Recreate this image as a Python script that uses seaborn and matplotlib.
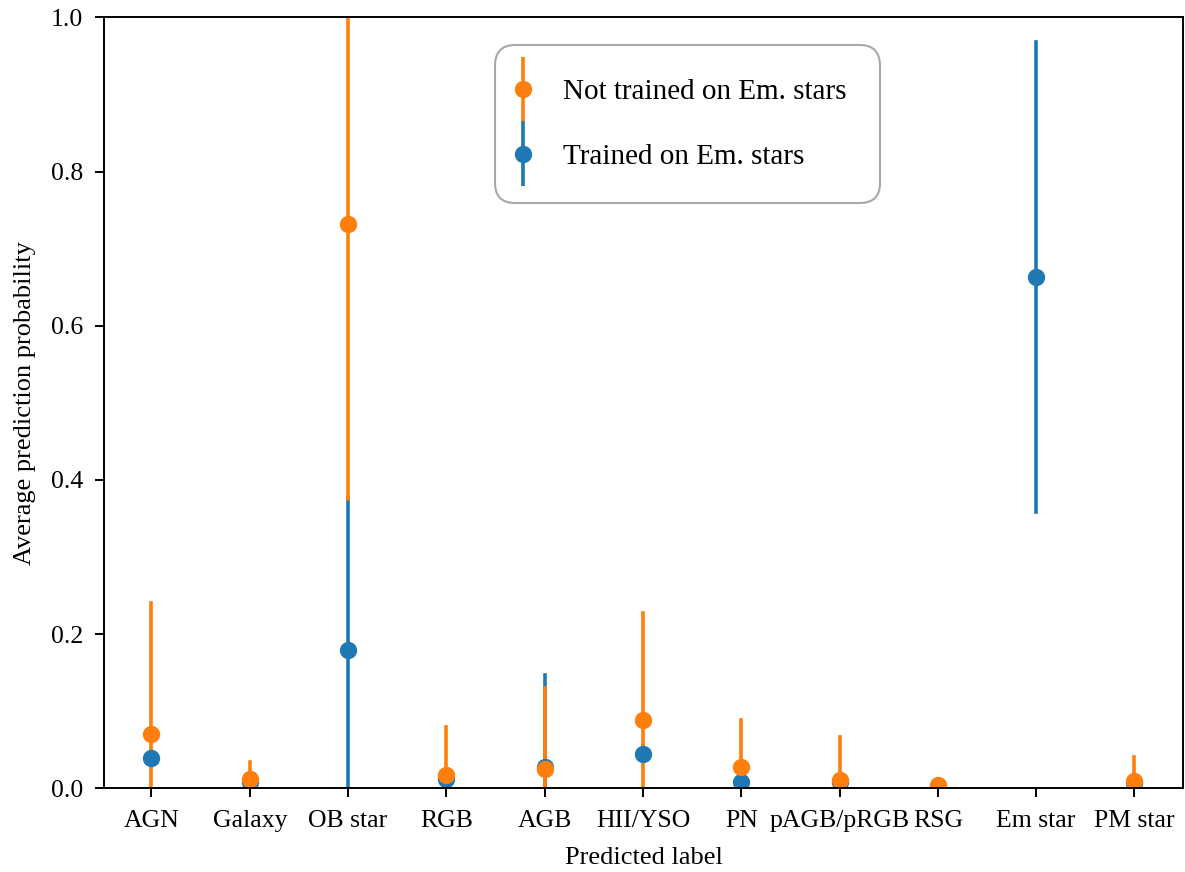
import numpy as np
import pandas as pd
import seaborn as sns
from matplotlib import pyplot as plt
from matplotlib.lines import Line2D
from matplotlib.collections import LineCollection
from matplotlib.container import ErrorbarContainer
from matplotlib.legend_handler import HandlerErrorbar

plt.rcParams['font.family'] = ['Liberation Serif', 'DejaVu Serif']
plt.rcParams['axes.linewidth'] = 1.4

labels = ['AGN', 'Galaxy', 'OB star', 'RGB', 'AGB', 'HII/YSO', 'PN',
          'pAGB/pRGB', 'RSG', 'Em star', 'PM star']

# not trained on emission stars (no Em star class)
mean_not = [0.071, 0.012, 0.732, 0.017, 0.025, 0.088, 0.028, 0.011, 0.004, np.nan, 0.010]
err_not = [0.170, 0.022, 0.357, 0.062, 0.105, 0.140, 0.061, 0.056, 0.004, np.nan, 0.031]

# trained on emission stars
mean_tr = [0.039, 0.008, 0.180, 0.012, 0.027, 0.045, 0.008, 0.008, 0.002, 0.663, 0.007]
err_tr = [0.010, 0.006, 0.197, 0.008, 0.120, 0.010, 0.008, 0.006, 0.002, 0.305, 0.006]

name_not = 'Not trained on Em. stars'
name_tr = 'Trained on Em. stars'
col_not = '#ff7f0e'
col_tr = '#1f77b4'

# two rows per class (mean -/+ err) so the 100% interval gives the bar
rows = []
for name, means, errs in [(name_tr, mean_tr, err_tr), (name_not, mean_not, err_not)]:
    for lab, m, e in zip(labels, means, errs):
        if np.isnan(m):
            continue
        rows.append({'label': lab, 'prob': m - e, 'model': name})
        rows.append({'label': lab, 'prob': m + e, 'model': name})
data = pd.DataFrame(rows)

fig, ax = plt.subplots(figsize=(11.85, 8.72), dpi=100)
fig.subplots_adjust(left=0.088, right=0.998, bottom=0.096, top=0.980)

sns.pointplot(data=data, x='label', y='prob', hue='model', order=labels,
              hue_order=[name_tr, name_not], palette=[col_tr, col_not],
              errorbar=('pi', 100), linestyle='none', markers='o',
              markersize=12.5, markeredgewidth=0,
              err_kws={'linewidth': 2.6, 'zorder': 1},
              legend=False, ax=ax)

ax.set_ylim(0, 1.0)
ax.set_xlim(-0.48, 10.49)
ax.set_xlabel('Predicted label', fontsize=19, labelpad=11)
ax.set_ylabel('Average prediction probability', fontsize=19, labelpad=10.5)
ax.tick_params(labelsize=18.5, length=6.5, width=1.4)
ax.tick_params(axis='x', pad=9)
ax.tick_params(axis='y', pad=9)


def proxy(color, label):
    line = Line2D([], [], color=color, marker='o', markersize=12.5,
                  markeredgewidth=0, linestyle='none')
    bars = LineCollection([], colors=color, linewidths=2.6)
    return ErrorbarContainer((line, (), (bars,)), has_xerr=False,
                             has_yerr=True, label=label)


leg = ax.legend(handles=[proxy(col_not, name_not), proxy(col_tr, name_tr)],
                handler_map={ErrorbarContainer: HandlerErrorbar(yerr_size=1.1, xpad=-0.77)},
                loc='upper left', bbox_to_anchor=(0.362, 0.964), borderaxespad=0,
                fontsize=21, handlelength=0.4, handletextpad=0.79,
                labelspacing=1.31, borderpad=1.15,
                fancybox=True, framealpha=1)
leg.get_frame().set_edgecolor('#a8a8a8')
leg.get_frame().set_linewidth(1.5)
leg.get_frame().set_boxstyle('round,pad=0,rounding_size=0.7')

plt.savefig('out.png', dpi=100)
